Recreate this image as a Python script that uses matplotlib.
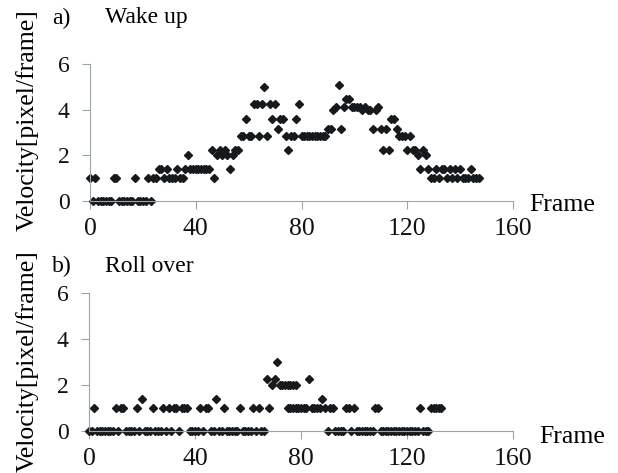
import matplotlib.pyplot as plt

plt.rcParams['font.family'] = ['Liberation Serif', 'DejaVu Serif']

# velocity levels [pixel/frame] and the frames at which each level occurs

# ---- a) Wake up ----
wake_levels = [0, 1, 1.41, 2, 2.24, 2.83, 3.16, 3.61, 4, 4.12, 4.24, 4.47, 5, 5.1]
wake_frames = [
    [1, 3, 4, 5, 6, 7, 8, 11, 12, 13, 14, 15, 16, 18, 19, 20, 21, 23],
    [0, 2, 9, 10, 17, 22, 24, 25, 28, 30, 31, 32, 34, 35, 47, 129, 130, 132,
     135, 137, 139, 141, 142, 143, 145, 146, 147],
    [26, 27, 29, 33, 36, 38, 39, 40, 41, 42, 43, 44, 45, 53, 125, 128, 131,
     133, 134, 136, 138, 140, 144],
    [37, 48, 50, 52, 54, 124, 127],
    [46, 49, 51, 55, 56, 75, 111, 113, 120, 122, 123, 126],
    [57, 58, 60, 61, 64, 67, 74, 76, 77, 80, 81, 82, 83, 84, 85, 86, 87, 88,
     89, 117, 118, 119, 121],
    [71, 90, 91, 95, 107, 110, 112, 116],
    [59, 69, 72, 73, 78, 114, 115],
    [92, 103, 105, 106, 108],
    [93, 96, 99, 100, 101, 102, 104, 109],
    [62, 63, 65, 68, 70, 79],
    [97, 98],
    [66],
    [94],
]

# ---- b) Roll over ----
roll_levels = [0, 1, 1.41, 2, 2.24, 3]
roll_frames = [
    [0, 1, 3, 4, 5, 6, 7, 8, 9, 11, 14, 15, 16, 17, 19, 21, 22, 23, 25, 26,
     27, 29, 31, 34, 38, 39, 40, 41, 43, 46, 47, 49, 50, 52, 53, 54, 55, 56,
     58, 59, 60, 61, 63, 65, 66, 90, 93, 94, 95, 96, 99, 101, 102, 103, 104,
     105, 106, 107, 110, 111, 112, 113, 114, 115, 116, 117, 118, 119, 120,
     121, 122, 123, 124, 126, 127, 128],
    [2, 10, 12, 13, 18, 24, 28, 30, 32, 33, 35, 36, 37, 42, 44, 45, 51, 57,
     62, 64, 68, 75, 76, 77, 78, 79, 80, 81, 82, 84, 85, 86, 87, 89, 91, 92,
     97, 98, 100, 108, 109, 125, 129, 130, 131, 132, 133],
    [20, 48, 88],
    [69, 72, 73, 74, 75, 76, 77, 78],
    [67, 70, 83],
    [71],
]

fig = plt.figure(figsize=(6.18, 4.73), dpi=100)

panels = [
    ([90 / 618, 1 - 201 / 473, 423 / 618, 137 / 473], wake_levels, wake_frames, 'a)', 'Wake up', 18),
    ([89 / 618, 1 - 431 / 473, 424 / 618, 138 / 473], roll_levels, roll_frames, 'b)', 'Roll over', 266),
]

for rect, levels, frames, tag, title, ty in panels:
    ax = fig.add_axes(rect)
    for v, fr in zip(levels, frames):
        ax.plot(fr, [v] * len(fr), linestyle='none', marker='D', markersize=4.3,
                color='#161a1c', clip_on=False)
    ax.set_xlim(0, 160)
    ax.set_ylim(0, 6)
    ax.set_xticks([0, 40, 80, 120, 160])
    ax.set_yticks([0, 2, 4, 6])
    for s in ['top', 'right']:
        ax.spines[s].set_visible(False)
    for s in ['left', 'bottom']:
        ax.spines[s].set_color('#9aa4ac')
        ax.spines[s].set_linewidth(0.8)
    ax.tick_params(direction='out', length=5.5, width=0.8, color='#9aa4ac',
                   labelcolor='#111111')
    ax.tick_params(axis='y', pad=9, labelsize=17)
    ax.tick_params(axis='x', pad=7, labelsize=18.5)
    ax.patch.set_alpha(0)
    fig.text(52 / 618, 1 - ty / 473, tag, fontsize=17, va='center', ha='left')
    fig.text(105 / 618, 1 - ty / 473, title, fontsize=17, va='center', ha='left')

fig.text(27 / 618, 1 - 120 / 473, 'Velocity[pixel/frame]', rotation=90,
         fontsize=18.5, va='center', ha='center')
fig.text(27 / 618, 1 - 361 / 473, 'Velocity[pixel/frame]', rotation=90,
         fontsize=18.5, va='center', ha='center')
fig.text(529 / 618, 1 - 205 / 473, 'Frame', fontsize=18.5, va='center', ha='left')
fig.text(539 / 618, 1 - 437 / 473, 'Frame', fontsize=18.5, va='center', ha='left')

fig.savefig('out.png', dpi=100)
